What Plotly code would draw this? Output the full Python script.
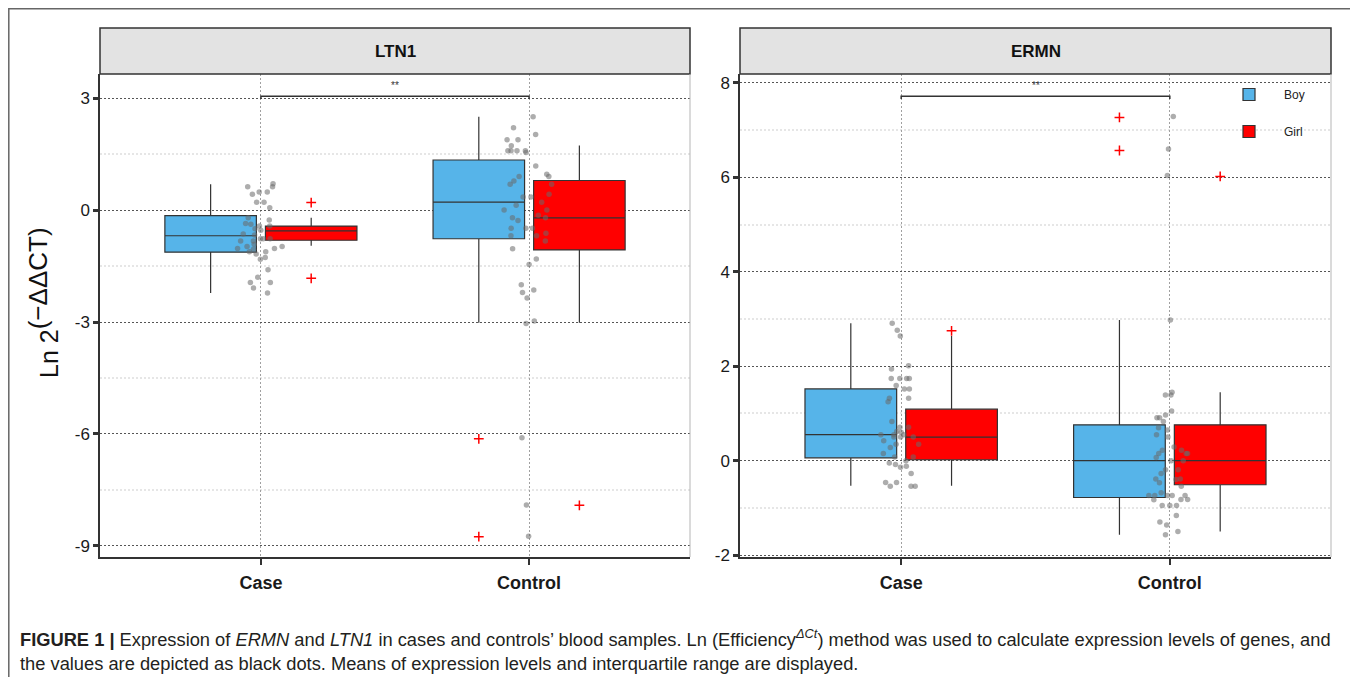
import plotly.graph_objects as go

# page body has an 8px margin: the figure is sized to fill the rest of the window
OFF = 8
W, H = 1358 - OFF, 677 - OFF

# ---------------- data ----------------
CATEGORIES = ["Case", "Control"]
SEXES = ["Boy", "Girl"]

# LTN1 box statistics (per category: Case, Control)
LTN1_BOY_Q1 = [-1.13, -0.77]
LTN1_BOY_MED = [-0.69, 0.21]
LTN1_BOY_Q3 = [-0.15, 1.34]
LTN1_BOY_LO = [-2.22, -3.02]
LTN1_BOY_HI = [0.69, 2.50]
LTN1_GIRL_Q1 = [-0.81, -1.07]
LTN1_GIRL_MED = [-0.56, -0.21]
LTN1_GIRL_Q3 = [-0.43, 0.79]
LTN1_GIRL_LO = [-0.96, -3.02]
LTN1_GIRL_HI = [-0.21, 1.73]
LTN1_BOY_OUT_CAT = ["Control", "Control"]
LTN1_BOY_OUT_VAL = [-6.13, -8.75]
LTN1_GIRL_OUT_CAT = ["Case", "Case", "Control"]
LTN1_GIRL_OUT_VAL = [0.20, -1.83, -7.91]
LTN1_CASE_PTS = [0.62, 0.70, 0.62, 0.48, 0.42, 0.48, 0.21, 0.21, 0.06, -0.21, -0.27,
                 -0.36, -0.38, -0.43, -0.54, -0.50, -0.43, -0.64, -0.67, -0.77, -0.77,
                 -0.83, -0.77, -0.83, -0.92, -0.98, -1.03, -0.98, -1.03, -1.05, -1.12,
                 -1.12, -1.18, -1.27, -1.32, -1.60, -1.80, -1.94, -1.94, -2.09, -2.22]
LTN1_CONTROL_PTS = [2.50, 2.20, 2.02, 1.88, 1.88, 1.72, 1.59, 1.59, 1.59, 1.59, 1.54,
                    1.18, 0.96, 0.90, 0.90, 0.78, 0.69, 0.69, 0.42, 0.35, 0.35, 0.21,
                    0.13, 0.00, 0.00, -0.14, -0.21, -0.21, -0.28, -0.49, -0.49, -0.49,
                    -0.62, -0.69, -0.69, -0.83, -1.04, -1.31, -1.46, -2.00, -2.14,
                    -2.21, -2.36, -2.97, -3.04, -6.10, -7.90, -8.74]
LTN1_SIG_Y = 3.05
LTN1_SIG_TEXT_Y = 3.34
LTN1_TICKS = [3, 0, -3, -6, -9]
LTN1_TICKTEXT = ["3", "0", "-3", "-6", "-9"]
LTN1_MINOR = [1.5, -1.5, -4.5, -7.5]
LTN1_RANGE = [-9.295, 3.643]

# ERMN box statistics
ERMN_BOY_Q1 = [0.06, -0.78]
ERMN_BOY_MED = [0.55, 0.00]
ERMN_BOY_Q3 = [1.52, 0.76]
ERMN_BOY_LO = [-0.53, -1.57]
ERMN_BOY_HI = [2.91, 2.98]
ERMN_GIRL_Q1 = [0.02, -0.51]
ERMN_GIRL_MED = [0.50, 0.00]
ERMN_GIRL_Q3 = [1.09, 0.76]
ERMN_GIRL_LO = [-0.53, -1.50]
ERMN_GIRL_HI = [2.64, 1.45]
ERMN_BOY_OUT_CAT = ["Control", "Control"]
ERMN_BOY_OUT_VAL = [7.27, 6.57]
ERMN_GIRL_OUT_CAT = ["Case", "Control"]
ERMN_GIRL_OUT_VAL = [2.75, 6.02]
ERMN_CASE_PTS = [2.91, 2.76, 2.64, 2.01, 1.94, 1.74, 1.74, 1.74, 1.74, 1.59, 1.52, 1.52,
                 1.32, 1.32, 1.25, 0.83, 0.71, 0.71, 0.62, 0.55, 0.55, 0.60, 0.55, 0.50,
                 0.50, 0.50, 0.42, 0.35, 0.35, 0.28, 0.15, 0.08, 0.08, 0.00, -0.05,
                 -0.08, -0.12, -0.14, -0.27, -0.54, -0.46, -0.46, -0.54, -0.54]
ERMN_CONTROL_PTS = [7.29, 6.60, 6.04, 2.98, 1.45, 1.39, 1.39, 1.05, 0.91, 0.91, 0.97,
                    0.83, 0.70, 0.65, 0.55, 0.50, 0.29, 0.22, 0.15, 0.15, 0.22, 0.15,
                    0.07, 0.00, 0.00, -0.27, -0.40, -0.39, -0.39, -0.19, -0.19, -0.47,
                    -0.54, -0.68, -0.74, -0.74, -0.74, -0.74, -0.74, -0.82, -0.83,
                    -0.82, -0.95, -0.95, -0.95, -1.16, -1.30, -1.36, -1.50, -1.57]
ERMN_SIG_Y = 7.72
ERMN_SIG_TEXT_Y = 7.94
ERMN_TICKS = [8, 6, 4, 2, 0, -2]
ERMN_TICKTEXT = ["8", "6", "4", "2", "0", "-2"]
ERMN_MINOR = [7, 5, 3, 1, -1]
ERMN_RANGE = [-2.04, 8.19]

PANEL_TITLES = ["LTN1", "ERMN"]
SIG_LABEL = "**"

# ---------------- style ----------------
FONT = "Liberation Sans, Arial, sans-serif"
BLUE = "#56B4E9"
RED = "#FF0000"
EDGE = "#333333"
PT_COLOR = "rgba(105,105,105,0.55)"


def px_x(p):
    return (p - OFF) / W


def px_y(p):
    return 1 - (p - OFF) / H


PANELS = [dict(x0=100, x1=690), dict(x0=740, x1=1331)]
PLOT_TOP, PLOT_BOT, STRIP_TOP = 74, 557, 28

fig = go.Figure()
shapes = []
annotations = []


def add_panel(i, boy, girl, boy_out, girl_out, case_pts, ctrl_pts, sig_y, sig_text_y, tip, show_legend):
    xa = "x" if i == 0 else "x2"
    ya = "y" if i == 0 else "y2"
    ag = "panel%d" % i
    for name, stats, color in (("Boy", boy, BLUE), ("Girl", girl, RED)):
        q1, med, q3, lo, hi = stats
        fig.add_trace(go.Box(
            x=CATEGORIES, q1=q1, median=med, q3=q3, lowerfence=lo, upperfence=hi,
            name=name, fillcolor=color, line=dict(color=EDGE, width=1.2),
            whiskerwidth=0, boxpoints=False, offsetgroup=name, alignmentgroup=ag,
            xaxis=xa, yaxis=ya, showlegend=show_legend, legendgroup=name,
            hoverinfo="skip",
        ))
    # outliers as red crosses, aligned with their box
    for name, (cats, vals) in (("Boy", boy_out), ("Girl", girl_out)):
        fig.add_trace(go.Box(
            x=cats, y=vals, name=name + " outliers", offsetgroup=name, alignmentgroup=ag,
            boxpoints="all", jitter=0, pointpos=0,
            fillcolor="rgba(0,0,0,0)", line=dict(width=0, color="rgba(0,0,0,0)"),
            marker=dict(symbol="cross-thin", size=7, color=RED,
                        line=dict(color=RED, width=1.5)),
            xaxis=xa, yaxis=ya, showlegend=False, hoverinfo="skip",
        ))
    # jittered raw points
    xs = [CATEGORIES[0]] * len(case_pts) + [CATEGORIES[1]] * len(ctrl_pts)
    fig.add_trace(go.Box(
        x=xs, y=case_pts + ctrl_pts, name="points", width=0.2,
        boxpoints="all", jitter=1, pointpos=0,
        fillcolor="rgba(0,0,0,0)", line=dict(width=0, color="rgba(0,0,0,0)"),
        marker=dict(size=5.5, color=PT_COLOR, line=dict(width=0)),
        xaxis=xa, yaxis=ya, showlegend=False, hoverinfo="skip",
    ))
    # significance bracket
    fig.add_trace(go.Scatter(
        x=[CATEGORIES[0], CATEGORIES[0], CATEGORIES[1], CATEGORIES[1]],
        y=[sig_y - tip, sig_y, sig_y, sig_y - tip],
        mode="lines", line=dict(color=EDGE, width=1.5),
        xaxis=xa, yaxis=ya, showlegend=False, hoverinfo="skip",
    ))
    annotations.append(dict(x=0.5, y=sig_text_y, xref=xa, yref=ya, text=SIG_LABEL,
                            xanchor="center", yanchor="middle",
                            showarrow=False, font=dict(size=10, color=EDGE, family=FONT)))


add_panel(0,
          (LTN1_BOY_Q1, LTN1_BOY_MED, LTN1_BOY_Q3, LTN1_BOY_LO, LTN1_BOY_HI),
          (LTN1_GIRL_Q1, LTN1_GIRL_MED, LTN1_GIRL_Q3, LTN1_GIRL_LO, LTN1_GIRL_HI),
          (LTN1_BOY_OUT_CAT, LTN1_BOY_OUT_VAL), (LTN1_GIRL_OUT_CAT, LTN1_GIRL_OUT_VAL),
          LTN1_CASE_PTS, LTN1_CONTROL_PTS, LTN1_SIG_Y, LTN1_SIG_TEXT_Y, 0.08, True)
add_panel(1,
          (ERMN_BOY_Q1, ERMN_BOY_MED, ERMN_BOY_Q3, ERMN_BOY_LO, ERMN_BOY_HI),
          (ERMN_GIRL_Q1, ERMN_GIRL_MED, ERMN_GIRL_Q3, ERMN_GIRL_LO, ERMN_GIRL_HI),
          (ERMN_BOY_OUT_CAT, ERMN_BOY_OUT_VAL), (ERMN_GIRL_OUT_CAT, ERMN_GIRL_OUT_VAL),
          ERMN_CASE_PTS, ERMN_CONTROL_PTS, ERMN_SIG_Y, ERMN_SIG_TEXT_Y, 0.06, False)

ydom = [px_y(PLOT_BOT), px_y(PLOT_TOP)]


def xaxis_cfg(p, anchor):
    return dict(
        domain=[px_x(p["x0"]), px_x(p["x1"])], anchor=anchor, type="category",
        categoryorder="array", categoryarray=CATEGORIES, range=[-0.6, 1.6],
        automargin=False,
        showgrid=True, gridcolor="#a0a0a0", griddash="2px,2px", gridwidth=1,
        showline=True, linecolor=EDGE, linewidth=1.5, zeroline=False,
        ticks="outside", ticklen=6, tickwidth=2, tickcolor=EDGE,
        ticklabelstandoff=3,
        tickfont=dict(size=18, color="#1a1a1a", family=FONT, weight="bold"),
    )


def yaxis_cfg(anchor, rng, tv, tt, minor):
    return dict(
        domain=ydom, anchor=anchor, range=rng, tickmode="array", tickvals=tv, ticktext=tt,
        automargin=False,
        showgrid=True, gridcolor="#555555", griddash="2px,2px", gridwidth=1,
        minor=dict(tickmode="array", tickvals=minor, showgrid=True,
                   gridcolor="#e6e6e6", gridwidth=2, ticks=""),
        showline=True, linecolor=EDGE, linewidth=1.5, zeroline=False,
        ticks="outside", ticklen=5, tickwidth=2.5, tickcolor=EDGE,
        tickfont=dict(size=17, color="#1a1a1a", family=FONT),
    )


for p, title in zip(PANELS, PANEL_TITLES):
    # strip
    shapes.append(dict(type="rect", xref="paper", yref="paper",
                       x0=px_x(p["x0"]), x1=px_x(p["x1"]),
                       y0=px_y(PLOT_TOP), y1=px_y(STRIP_TOP),
                       fillcolor="#e3e3e3", line=dict(color=EDGE, width=1.5), layer="above"))
    annotations.append(dict(xref="paper", yref="paper", x=px_x((p["x0"] + p["x1"]) / 2),
                            y=px_y((PLOT_TOP + STRIP_TOP) / 2), text="<b>%s</b>" % title,
                            xanchor="center", yanchor="middle",
                            showarrow=False, font=dict(size=17, color="#111", family=FONT)))
    # light right border
    shapes.append(dict(type="line", xref="paper", yref="paper",
                       x0=px_x(p["x1"]), x1=px_x(p["x1"]),
                       y0=px_y(PLOT_BOT), y1=px_y(PLOT_TOP),
                       line=dict(color="#b5b5b5", width=1)))

# outer figure frame
shapes.append(dict(type="rect", xref="paper", yref="paper",
                   x0=px_x(8.8), x1=px_x(1353), y0=-0.05, y1=px_y(8.8),
                   line=dict(color="#666", width=1.5), fillcolor="rgba(0,0,0,0)"))

# y axis title
annotations.append(dict(xref="paper", yref="paper", x=px_x(21), y=px_y(303),
                        xanchor="left", yanchor="middle",
                        text="Ln 2<sup><span style='font-size:26px'>(−ΔΔCT)</span></sup>",
                        textangle=-90, showarrow=False,
                        font=dict(size=25, color="#111", family=FONT)))

# caption
CAPTION_1 = ("<b>FIGURE 1 |</b> Expression of <i>ERMN</i> and <i>LTN1</i> in cases and controls’ "
             "blood samples. Ln (Efficiency<sup><i>ΔCt</i></sup>) method was used to calculate "
             "expression levels of genes, and")
CAPTION_2 = ("the values are depicted as black dots. Means of expression levels and "
             "interquartile range are displayed.")
for txt, yy in ((CAPTION_1, 638), (CAPTION_2, 663)):
    annotations.append(dict(xref="paper", yref="paper", x=px_x(18), y=px_y(yy),
                            xanchor="left", yanchor="middle", text=txt, showarrow=False,
                            font=dict(size=18.3, color="#231f20", family=FONT)))

fig.update_layout(
    width=W, height=H, autosize=False,
    margin=dict(l=0, r=0, t=0, b=0, autoexpand=False),
    paper_bgcolor="white", plot_bgcolor="white",
    boxmode="group", boxgap=0.25, boxgroupgap=0.09,
    xaxis=xaxis_cfg(PANELS[0], "y"),
    yaxis=yaxis_cfg("x", LTN1_RANGE, LTN1_TICKS, LTN1_TICKTEXT, LTN1_MINOR),
    xaxis2=xaxis_cfg(PANELS[1], "y2"),
    yaxis2=yaxis_cfg("x2", ERMN_RANGE, ERMN_TICKS, ERMN_TICKTEXT, ERMN_MINOR),
    legend=dict(x=px_x(1214), y=px_y(80), xanchor="left", yanchor="top",
                bgcolor="rgba(0,0,0,0)", itemwidth=60, tracegroupgap=18,
                font=dict(size=12, color="#222", family=FONT)),
    showlegend=True,
    font=dict(family=FONT),
)
fig.layout.shapes = shapes
fig.layout.annotations = annotations

fig.write_html("out.html")
